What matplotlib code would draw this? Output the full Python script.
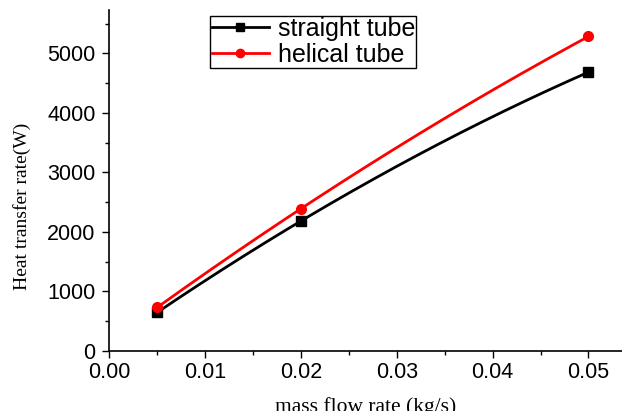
import numpy as np
import matplotlib
matplotlib.use("Agg")
import matplotlib.pyplot as plt
from matplotlib.ticker import MultipleLocator
from matplotlib.lines import Line2D

mass_flow = [0.005, 0.02, 0.05]
straight_tube = [650, 2185, 4684]
helical_tube = [734, 2392, 5283]

fig = plt.figure(figsize=(6.22, 4.11), dpi=100)
ax = fig.add_axes([0.176, 0.146, 0.824, 0.83])

def smooth(x, y):
    xs = np.linspace(min(x), max(x), 200)
    c = np.polyfit(x, y, 2)
    return xs, np.polyval(c, xs)

for y, col, mk in [(straight_tube, 'black', 's'), (helical_tube, 'red', 'o')]:
    xs, ys = smooth(mass_flow, y)
    ax.plot(xs, ys, color=col, lw=2)
    ax.plot(mass_flow, y, color=col, marker=mk, ms=7, ls='none')

handles = [Line2D([], [], color='black', lw=2, marker='s', ms=6),
           Line2D([], [], color='red', lw=2, marker='o', ms=6)]
leg = ax.legend(handles, ['straight tube', 'helical tube'], loc='upper left',
                bbox_to_anchor=(0.187, 0.998), fancybox=False, framealpha=1,
                edgecolor='black', prop={'family': 'Liberation Sans', 'size': 18},
                handlelength=2.3, handletextpad=0.35, borderpad=0.05, labelspacing=0.08,
                borderaxespad=0.2)
leg.get_frame().set_linewidth(1.0)

ax.set_xlim(0, 0.0535)
ax.set_ylim(0, 5730)
ax.xaxis.set_major_locator(MultipleLocator(0.01))
ax.xaxis.set_minor_locator(MultipleLocator(0.005))
ax.yaxis.set_major_locator(MultipleLocator(1000))
ax.yaxis.set_minor_locator(MultipleLocator(500))
ax.xaxis.set_major_formatter(matplotlib.ticker.FormatStrFormatter('%.2f'))
ax.tick_params(which='major', direction='out', length=5, width=1,
               labelsize=15.5, pad=3)
ax.tick_params(axis='y', which='major', pad=5)
ax.tick_params(which='minor', direction='out', length=3, width=1)
for lbl in ax.get_xticklabels() + ax.get_yticklabels():
    lbl.set_family('Liberation Sans')
for s in ['top', 'right']:
    ax.spines[s].set_visible(False)
for s in ['left', 'bottom']:
    ax.spines[s].set_linewidth(1.2)

ax.set_xlabel('mass flow rate (kg/s)', family='Liberation Serif', fontsize=15.5, labelpad=10)
ax.set_ylabel('Heat transfer rate(W)', family='Liberation Serif', fontsize=14)
ax.yaxis.set_label_coords(-0.154, 0.425)

fig.savefig('out.png', dpi=100)
